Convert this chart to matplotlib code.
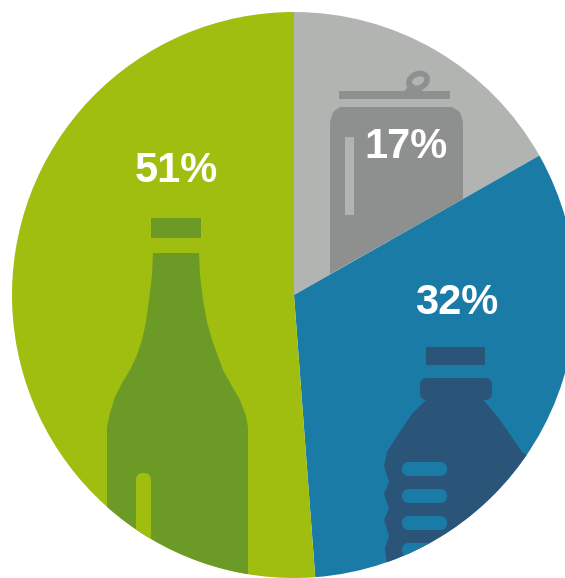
import matplotlib
matplotlib.use("Agg")
import matplotlib.pyplot as plt
from matplotlib.patches import Polygon, FancyBboxPatch, Rectangle, Ellipse, Circle

# shares of the pie, clockwise from the top (measured off the slice angles)
labels = ["17%", "32%", "51%"]
values = [16.8, 32.0, 51.2]
colors = ["#b2b4b1", "#1a7ca6", "#9fbe10"]

W, H = 565, 578
fig = plt.figure(figsize=(W / 100, H / 100), dpi=100)

# the pie itself
pie_ax = fig.add_axes([12 / W, 1 - 578 / H, 564 / W, 566 / H])
pie_ax.pie(values, colors=colors, startangle=90, counterclock=False, radius=1,
           wedgeprops={"linewidth": 0})
pie_ax.set_aspect("auto")
pie_ax.set_xlim(-1, 1)
pie_ax.set_ylim(-1, 1)

# overlay in pixel coordinates for the icons and labels
ax = fig.add_axes([0, 0, 1, 1])
ax.set_xlim(0, W)
ax.set_ylim(H, 0)
ax.axis("off")
ax.patch.set_alpha(0)

clip = Ellipse((294, 295), 564, 566, transform=ax.transData)

green = "#6b9a27"
blue = "#2b5479"
grey = "#8d908e"


def shape(patch):
    ax.add_patch(patch)
    patch.set_clip_path(clip)


# glass bottle
shape(Rectangle((151, 218), 50, 20, color=green, lw=0))
bottle = [(153, 253), (199, 253), (200, 275), (203, 300), (207, 322), (212, 340), (223, 370),
          (233, 388), (240, 400), (246, 416), (248, 427), (248, 578),
          (107, 578), (107, 427), (110, 413), (115, 397), (122, 383), (130, 370), (137, 355),
          (142, 340), (146, 322), (149, 300), (152, 275)]
shape(Polygon(bottle, color=green, lw=0))
shape(FancyBboxPatch((136, 473), 15, 110, boxstyle="round,pad=0,rounding_size=7",
                     color=colors[2], lw=0))

# plastic bottle
shape(Rectangle((426, 347), 59, 18, color=blue, lw=0))
shape(FancyBboxPatch((420, 378), 72, 22, boxstyle="round,pad=0,rounding_size=7", color=blue, lw=0))
plastic = [(428, 398), (482, 398), (500, 420), (523, 453), (570, 470), (570, 578),
           (388, 578), (385, 548), (389, 536), (384, 520), (389, 508), (384, 494), (389, 482),
           (384, 466), (387, 452), (397, 436), (412, 414)]
shape(Polygon(plastic, color=blue, lw=0))
for y in [462, 489, 516, 543]:
    shape(FancyBboxPatch((402, y), 45, 14, boxstyle="round,pad=0,rounding_size=7",
                         color=colors[1], lw=0))

# can
can = [(340, 107), (452, 107), (460, 112), (463, 122), (463, 199), (330, 274), (330, 122),
       (333, 112)]
ax.add_patch(Polygon(can, color=grey, lw=0))
ax.add_patch(Rectangle((339, 91), 111, 8, color=grey, lw=0))
ax.add_patch(Rectangle((345, 137), 9, 78, color="#b2b4b1", lw=0))
ax.add_patch(Ellipse((418, 81), 19, 14, angle=-25, fill=False, ec=grey, lw=4))
ax.add_patch(Polygon([(404, 92), (411, 82), (418, 88), (424, 92)], color=grey, lw=0))

# value labels
pos = [(406, 147), (457, 303), (176, 171)]
for lab, (x, y) in zip(labels, pos):
    ax.text(x, y, lab, color="white", fontsize=30, fontweight="bold", family="Liberation Sans",
            ha="center", va="center")

fig.savefig("out.png", dpi=100)
